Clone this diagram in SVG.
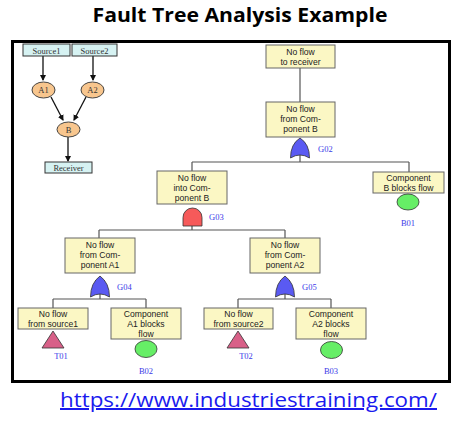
<svg xmlns="http://www.w3.org/2000/svg" width="463" height="426" viewBox="0 0 463 426">
<defs>
<marker id="arr" markerWidth="6" markerHeight="6" refX="5" refY="3" orient="auto" markerUnits="userSpaceOnUse">
<path d="M0,0 L6,3 L0,6 Z" fill="#111"/>
</marker>
<style>
.title{font-family:"Open Sans","Liberation Sans",sans-serif;font-weight:bold;font-size:19px;fill:#000}
.url{font-family:"Open Sans","Liberation Sans",sans-serif;font-size:20px;fill:#1a1aee;text-decoration:underline}
.ev{fill:#fbf7c4;stroke:#666;stroke-width:1}
.t{font-family:"Liberation Sans",Arial,sans-serif;font-size:8.6px;fill:#222;text-anchor:middle}
.lab{font-family:"Liberation Serif",serif;font-size:8.5px;fill:#3a3ae8}
.sb{fill:#d6f2f2;stroke:#333;stroke-width:1}
.st{font-family:"Liberation Serif",serif;font-size:8.5px;fill:#333;text-anchor:middle}
.el{fill:#f8c68e;stroke:#444;stroke-width:1}
.ln{stroke:#555;stroke-width:1.2;fill:none}
.ar{stroke:#111;stroke-width:1.3;fill:none;marker-end:url(#arr)}
.or{fill:#5a5af2;stroke:#333;stroke-width:0.8}
.and{fill:#f65a5a;stroke:#333;stroke-width:0.8}
.be{fill:#66ee66;stroke:#333;stroke-width:0.8}
.tr{fill:#d86088;stroke:#333;stroke-width:0.8}
</style>
</defs>
<rect width="463" height="426" fill="#fff"/>
<text class="title" x="240" y="22" text-anchor="middle" textLength="295" lengthAdjust="spacingAndGlyphs">Fault Tree Analysis Example</text>
<rect x="12.5" y="41.5" width="437" height="340" fill="none" stroke="#000" stroke-width="3"/>

<g id="connectors">
<path class="ar" d="M43,56 L43,80"/>
<path class="ar" d="M93,56 L93,80"/>
<path class="ar" d="M51,97 L63,120"/>
<path class="ar" d="M86,97 L74,120"/>
<path class="ar" d="M68,137 L68,161"/>
<path class="ln" d="M300,68 L300,102"/>
<path class="ln" d="M300,154 L300,162 M192,162 L409,162 M192,162 L192,171 M409,162 L409,172"/>
<path class="ln" d="M192,222 L192,230 M99,230 L285,230 M99,230 L99,238 M285,230 L285,238"/>
<path class="ln" d="M100,293 L100,299 M53,299 L146,299 M53,299 L53,308 M146,299 L146,308"/>
<path class="ln" d="M285,293 L285,299 M238,299 L331,299 M238,299 L238,308 M331,299 L331,308"/>
</g>

<g id="source1"><rect class="sb" x="23" y="44" width="47" height="12"/><text class="st" x="46.5" y="53.5">Source1</text></g>
<g id="source2"><rect class="sb" x="72" y="44" width="45" height="12"/><text class="st" x="94.5" y="53.5">Source2</text></g>
<g id="a1"><ellipse class="el" cx="43.5" cy="90" rx="11.5" ry="8"/><text class="st" x="43.5" y="93">A1</text></g>
<g id="a2"><ellipse class="el" cx="92.5" cy="90" rx="11.5" ry="8"/><text class="st" x="92.5" y="93">A2</text></g>
<g id="b"><ellipse class="el" cx="68.5" cy="129.5" rx="11.5" ry="7.5"/><text class="st" x="68.5" y="132.5">B</text></g>
<g id="receiver"><rect class="sb" x="45" y="162" width="47" height="11"/><text class="st" x="68.5" y="170.5">Receiver</text></g>

<g id="top"><rect class="ev" x="266" y="45" width="69" height="23"/><text class="t" x="300.5" y="55">No flow</text><text class="t" x="300.5" y="65">to receiver</text></g>
<g id="compB"><rect class="ev" x="266" y="102" width="69" height="35"/><text class="t" x="300.5" y="112">No flow</text><text class="t" x="300.5" y="122">from Com-</text><text class="t" x="300.5" y="132">ponent B</text></g>
<g id="G02"><path class="or" d="M290.5,158 Q290.5,144 300,138 Q309.5,144 309.5,158 Q300,152 290.5,158 Z"/><text class="lab" x="318" y="152">G02</text></g>

<g id="intoB"><rect class="ev" x="157" y="171" width="70" height="33"/><text class="t" x="192" y="181">No flow</text><text class="t" x="192" y="191">into Com-</text><text class="t" x="192" y="201">ponent B</text></g>
<g id="G03"><path class="and" d="M183,226 L183,217.5 A9.5,9.5 0 0 1 202,217.5 L202,226 Z"/><text class="lab" x="209" y="220">G03</text></g>

<g id="Bblocks"><rect class="ev" x="373" y="172" width="71" height="21"/><text class="t" x="408.5" y="181">Component</text><text class="t" x="408.5" y="191">B blocks flow</text></g>
<g id="B01"><ellipse class="be" cx="408" cy="202" rx="11" ry="8"/><text class="lab" x="408" y="226" text-anchor="middle">B01</text></g>

<g id="compA1"><rect class="ev" x="65" y="238" width="70" height="35"/><text class="t" x="100" y="248">No flow</text><text class="t" x="100" y="258">from Com-</text><text class="t" x="100" y="268">ponent A1</text></g>
<g id="G04"><path class="or" d="M90.5,297 Q90.5,283 100,276 Q109.5,283 109.5,297 Q100,291 90.5,297 Z"/><text class="lab" x="117" y="290">G04</text></g>

<g id="compA2"><rect class="ev" x="250" y="238" width="70" height="35"/><text class="t" x="285" y="248">No flow</text><text class="t" x="285" y="258">from Com-</text><text class="t" x="285" y="268">ponent A2</text></g>
<g id="G05"><path class="or" d="M275.5,297 Q275.5,283 285,276 Q294.5,283 294.5,297 Q285,291 275.5,297 Z"/><text class="lab" x="302" y="290">G05</text></g>

<g id="src1"><rect class="ev" x="18" y="308" width="70" height="21"/><text class="t" x="53" y="317">No flow</text><text class="t" x="53" y="327">from source1</text></g>
<g id="T01"><path class="tr" d="M42,348 L53,331 L64,348 Z"/><text class="lab" x="61" y="359" text-anchor="middle">T01</text></g>

<g id="A1blocks"><rect class="ev" x="111" y="308" width="70" height="31"/><text class="t" x="146" y="317">Component</text><text class="t" x="146" y="327">A1 blocks</text><text class="t" x="146" y="337">flow</text></g>
<g id="B02"><ellipse class="be" cx="146" cy="349" rx="11" ry="8.5"/><text class="lab" x="146" y="374" text-anchor="middle">B02</text></g>

<g id="src2"><rect class="ev" x="204" y="308" width="69" height="21"/><text class="t" x="238.5" y="317">No flow</text><text class="t" x="238.5" y="327">from source2</text></g>
<g id="T02"><path class="tr" d="M227,348 L238,331 L249,348 Z"/><text class="lab" x="246" y="359" text-anchor="middle">T02</text></g>

<g id="A2blocks"><rect class="ev" x="296" y="308" width="70" height="31"/><text class="t" x="331" y="317">Component</text><text class="t" x="331" y="327">A2 blocks</text><text class="t" x="331" y="337">flow</text></g>
<g id="B03"><ellipse class="be" cx="331.5" cy="350" rx="11" ry="8.5"/><text class="lab" x="331" y="374" text-anchor="middle">B03</text></g>

<text class="url" x="60" y="407" textLength="377" lengthAdjust="spacingAndGlyphs">https://www.industriestraining.com/</text>
</svg>
